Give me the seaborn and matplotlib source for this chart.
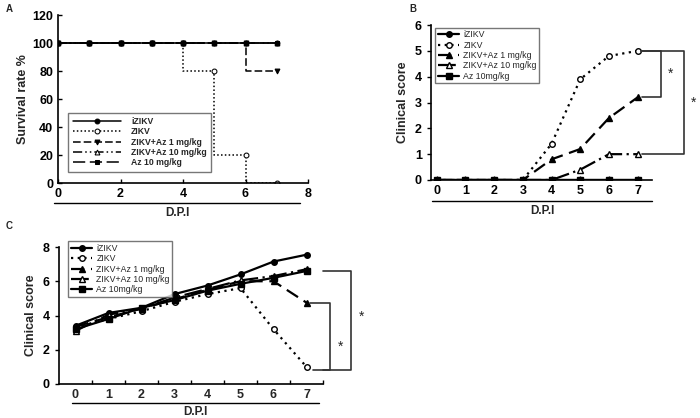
import numpy as np
import pandas as pd
import matplotlib
matplotlib.use("Agg")
import matplotlib.pyplot as plt
from matplotlib.lines import Line2D
import seaborn as sns

sns.set_style("ticks")
plt.rcParams['font.family'] = ['Liberation Sans', 'DejaVu Sans']

# --- data ---
days = [0, 1, 2, 3, 4, 5, 6, 7]
labels_a = ['iZIKV', 'ZIKV', 'ZIKV+Az 1 mg/kg', 'ZIKV+Az 10 mg/kg', 'Az 10 mg/kg']
labels_bc = ['iZIKV', 'ZIKV', 'ZIKV+Az 1 mg/kg', 'ZIKV+Az 10 mg/kg', 'Az 10mg/kg']

# A: survival rate (%)
surv_izikv = [100, 100, 100, 100, 100, 100, 100, 100]
surv_zikv = [100, 100, 100, 100, 100, 80, 20, 0]
surv_az1 = [100, 100, 100, 100, 100, 100, 100, 80]
surv_az10 = [100, 100, 100, 100, 100, 100, 100, 100]
surv_az = [100, 100, 100, 100, 100, 100, 100, 100]

# B: clinical score
b_izikv = [0, 0, 0, 0, 0, 0, 0, 0]
b_zikv = [0, 0, 0, 0, 1.4, 3.9, 4.8, 5.0]
b_az1 = [0, 0, 0, 0, 0.8, 1.2, 2.4, 3.2]
b_az10 = [0, 0, 0, 0, 0, 0.4, 1.0, 1.0]
b_az = [0, 0, 0, 0, 0, 0, 0, 0]

# C: clinical score
c_izikv = [3.4, 4.15, 4.45, 5.25, 5.75, 6.4, 7.15, 7.55]
c_zikv = [3.3, 3.8, 4.25, 4.8, 5.25, 5.6, 3.2, 1.0]
c_az1 = [3.35, 3.9, 4.4, 4.95, 5.5, 6.0, 6.0, 4.75]
c_az10 = [3.1, 4.05, 4.4, 5.05, 5.55, 6.05, 6.3, 6.7]
c_az = [3.2, 3.8, 4.45, 4.9, 5.45, 5.85, 6.2, 6.6]

styles = [
    dict(linestyle='-', marker='o', mfc='black'),
    dict(linestyle=(0, (1, 2)), marker='o', mfc='white'),
    dict(linestyle=(0, (6, 3)), marker='^', mfc='black'),
    dict(linestyle=(0, (8, 2, 1, 2)), marker='^', mfc='white'),
    dict(linestyle='-', marker='s', mfc='black'),
]
styles_a = [
    dict(linestyle='-', marker='o', mfc='black'),
    dict(linestyle=(0, (1, 1.5)), marker='o', mfc='white'),
    dict(linestyle=(0, (5, 2)), marker='v', mfc='black'),
    dict(linestyle=(0, (6, 2, 1, 2, 1, 2)), marker='^', mfc='white'),
    dict(linestyle=(0, (8, 3)), marker='s', mfc='black'),
]

W, H = 700, 418
fig = plt.figure(figsize=(7, 4.18), dpi=100)


def axes_px(l, t, r, b):
    return fig.add_axes([l / W, 1 - b / H, (r - l) / W, (b - t) / H])


def style_axes(ax):
    sns.despine(ax=ax)
    for s in ['left', 'bottom']:
        ax.spines[s].set_color('black')
        ax.spines[s].set_linewidth(1.2)
    ax.tick_params(colors='black', labelsize=9, width=1)
    for lab in ax.get_xticklabels() + ax.get_yticklabels():
        lab.set_fontweight('bold')


def dpi_label(x0, x1, y_line, y_text):
    fig.add_artist(Line2D([x0 / W, x1 / W], [1 - y_line / H, 1 - y_line / H],
                          color='black', lw=1))
    fig.text((x0 + x1) / 2 / W, 1 - y_text / H, 'D.P.I', ha='center', va='center',
             fontsize=8.5, fontweight='bold')


def bracket(ax, x0, xv, y_top, y_bot, x_bot, star_y):
    ax.plot([x0, xv, xv, x_bot], [y_top, y_top, y_bot, y_bot], color='#333333',
            lw=1.2, clip_on=False)
    ax.text(xv + 0.25, star_y, '*', fontsize=10, ha='left', va='center',
            clip_on=False)


# ---------- Panel A ----------
axA = axes_px(58, 15, 308, 183)
for y, lab, st in zip([surv_izikv, surv_zikv, surv_az1, surv_az10, surv_az], labels_a, styles_a):
    sns.lineplot(x=days, y=y, ax=axA, color='black', lw=1.1, label=lab,
                 drawstyle='steps-pre', markersize=3.5, mec='black',
                 linestyle=st['linestyle'], marker=st['marker'], mfc=st['mfc'])
axA.set_xlim(0, 8)
axA.set_ylim(0, 120)
axA.set_xticks([0, 2, 4, 6, 8])
axA.set_yticks(range(0, 121, 20))
axA.tick_params(direction='in', length=3)
axA.set_xlabel('')
axA.set_ylabel('Survival rate %', fontsize=9, fontweight='bold', labelpad=2)
style_axes(axA)
leg = axA.legend(loc='lower left', bbox_to_anchor=(0.024, 0.042), fontsize=6.2,
                 handlelength=5.6, frameon=True, fancybox=False, edgecolor='#555555',
                 borderpad=0.5, labelspacing=0.15, handletextpad=1.2)
leg.get_frame().set_linewidth(1)
for t in leg.get_texts():
    t.set_fontweight('bold')
dpi_label(54, 300, 203, 213)
fig.text(6 / W, 1 - 9 / H, 'A', fontsize=7, fontweight='bold', va='center')

# ---------- Panel B ----------
axB = axes_px(431, 25, 652, 180)
for y, lab, st in zip([b_izikv, b_zikv, b_az1, b_az10, b_az], labels_bc, styles):
    sns.lineplot(x=days, y=y, ax=axB, color='black', lw=1.6, label=lab,
                 markersize=4, mec='black', mew=1,
                 linestyle=st['linestyle'], marker=st['marker'], mfc=st['mfc'])
axB.set_xlim(-0.2, 7.5)
axB.set_ylim(0, 6)
axB.set_xticks(days)
axB.set_yticks(range(0, 7))
axB.tick_params(axis='x', direction='in', length=3)
axB.tick_params(axis='y', direction='out', length=3)
axB.set_xlabel('')
axB.set_ylabel('Clinical score', fontsize=9, fontweight='bold', labelpad=4)
style_axes(axB)
leg = axB.legend(loc='upper left', bbox_to_anchor=(0.0, 1.01), fontsize=6.3,
                 handlelength=2.4, frameon=True, fancybox=False, edgecolor='#555555',
                 borderpad=0.3, labelspacing=0.15, handletextpad=0.5)
leg.get_frame().set_linewidth(1)
bracket(axB, 7.1, 7.8, b_zikv[-1], b_az1[-1], 7.15, 4.1)
bracket(axB, 7.1, 8.6, b_zikv[-1], b_az10[-1], 7.15, 3.0)
dpi_label(432, 652, 201, 211)
fig.text(409 / W, 1 - 9 / H, 'B', fontsize=7, fontweight='bold', va='center')

# ---------- Panel C ----------
axC = axes_px(59, 247, 323, 384)
for y, lab, st in zip([c_izikv, c_zikv, c_az1, c_az10, c_az], labels_bc, styles):
    sns.lineplot(x=days, y=y, ax=axC, color='black', lw=1.6, label=lab,
                 markersize=4, mec='black', mew=1,
                 linestyle=st['linestyle'], marker=st['marker'], mfc=st['mfc'])
axC.set_xlim(-0.5, 7.5)
axC.set_ylim(0, 8)
axC.set_xticks(np.arange(0.5, 8, 1))
axC.set_xticklabels([])
axC.set_xticks(days, minor=True)
axC.set_xticklabels([str(d) for d in days], minor=True)
axC.tick_params(axis='x', which='major', direction='in', length=3)
axC.tick_params(axis='x', which='minor', length=0, labelsize=9)
axC.set_yticks(range(0, 9, 2))
axC.tick_params(axis='y', direction='out', length=3)
axC.set_xlabel('')
axC.set_ylabel('Clinical score', fontsize=9, fontweight='bold', labelpad=4)
style_axes(axC)
for lab in axC.get_xticklabels(minor=True):
    lab.set_fontweight('bold')
leg = axC.legend(loc='upper left', bbox_to_anchor=(0.019, 1.073), fontsize=6.3,
                 handlelength=2.4, frameon=True, fancybox=False, edgecolor='#555555',
                 borderpad=0.3, labelspacing=0.15, handletextpad=0.5)
leg.get_frame().set_linewidth(1)
bracket(axC, 7.1, 7.7, c_az1[-1], 0.8, 7.2, 2.2)
bracket(axC, 7.5, 8.35, c_az[-1], 0.8, 7.5, 3.9)
dpi_label(72, 319, 403, 412)
fig.text(6 / W, 1 - 226 / H, 'C', fontsize=7, fontweight='bold', va='center')

fig.savefig('out.png', dpi=100)
